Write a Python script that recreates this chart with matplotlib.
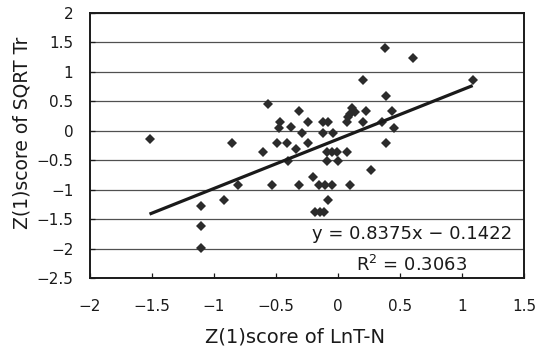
import matplotlib
matplotlib.use("Agg")
import matplotlib.pyplot as plt
import numpy as np

# Data
x_vals = [-1.52, -1.107, -1.107, -1.107, -0.917, -0.852, -0.804, -0.602, -0.562, -0.530,
          -0.494, -0.468, -0.473, -0.409, -0.401, -0.381, -0.339, -0.312, -0.315, -0.288,
          -0.240, -0.240, -0.199, -0.185, -0.145, -0.113, -0.153, -0.105, -0.051, -0.078,
          -0.119, -0.081, -0.119, -0.038, -0.091, -0.051, -0.011, 0.070, -0.091, 0.002,
          0.100, 0.070, 0.110, 0.140, 0.100, 0.080, 0.226, 0.433, 0.199, 0.352,
          0.452, 0.387, 0.263, 0.379, 0.607, 0.198, 1.086, 0.391]
y_vals = [-0.139, -1.277, -1.611, -1.985, -1.175, -0.212, -0.920, -0.355, 0.450, -0.920,
          -0.212, 0.155, 0.042, -0.212, -0.507, 0.059, -0.314, 0.341, -0.920, -0.032,
          0.144, -0.212, -0.790, -1.373, -1.373, -1.373, -0.920, -0.920, -0.920, -1.175,
          0.144, 0.144, -0.032, -0.032, -0.355, -0.355, -0.355, -0.355, -0.507, -0.507,
          -0.920, 0.150, 0.380, 0.320, 0.290, 0.240, 0.341, 0.341, 0.155, 0.150,
          0.042, -0.212, -0.670, 1.410, 1.230, 0.860, 0.862, 0.585]

slope = 0.8375
intercept = -0.1422
r_squared = 0.3063

x_ticks = [-2, -1.5, -1, -0.5, 0, 0.5, 1, 1.5]
y_ticks = [-2.5, -2, -1.5, -1, -0.5, 0, 0.5, 1, 1.5, 2]

x_label = "Z(1)score of LnT-N"
y_label = "Z(1)score of SQRT Tr"

plt.rcParams['font.family'] = ['DejaVu Sans']

fig = plt.figure(figsize=(5.46, 3.5), dpi=100)
ax = fig.add_axes([90/546, 1 - 278/350, 434/546, 265/350])

ax.set_xlim(x_ticks[0], x_ticks[-1])
ax.set_ylim(y_ticks[0], y_ticks[-1])
ax.set_xticks(x_ticks)
ax.set_yticks(y_ticks)
ax.set_xticklabels([f"{v:g}".replace("-", "\u2212") for v in x_ticks])
ax.set_yticklabels([f"{v:g}".replace("-", "\u2212") for v in y_ticks])

ax.yaxis.grid(True, color='#505050', linewidth=0.9, zorder=0)
ax.set_axisbelow(True)

for s in ax.spines.values():
    s.set_linewidth(1.4)
    s.set_color('#1a1a1a')

ax.tick_params(axis='both', direction='in', length=3.6, width=0.9, labelsize=11,
               colors='#1a1a1a')
ax.tick_params(axis='x', pad=15)
ax.tick_params(axis='y', pad=12)

ax.plot(x_vals, y_vals, linestyle='none', marker='D', markersize=5.4,
        color='#2b2b2b', markeredgewidth=0, zorder=3)

xs = np.array([min(x_vals), max(x_vals)])
ax.plot(xs, slope * xs + intercept, color='#1a1a1a', linewidth=2.3,
        solid_capstyle='butt', zorder=4)

ax.set_xlabel(x_label, fontsize=14, color='#1a1a1a')
ax.set_ylabel(y_label, fontsize=13.5, color='#1a1a1a')
ax.xaxis.set_label_coords(0.472, -0.185)
ax.yaxis.set_label_coords(-0.135, 0.547)

ax.text(0.742, 0.166, f"y = {slope}x \u2212 {abs(intercept)}", transform=ax.transAxes,
        ha='center', va='center', fontsize=13, color='#1a1a1a', zorder=5)
ax.text(0.742, 0.049, f"R$^2$ = {r_squared}", transform=ax.transAxes,
        ha='center', va='center', fontsize=13, color='#1a1a1a', zorder=5)

fig.savefig("out.png", dpi=100)
